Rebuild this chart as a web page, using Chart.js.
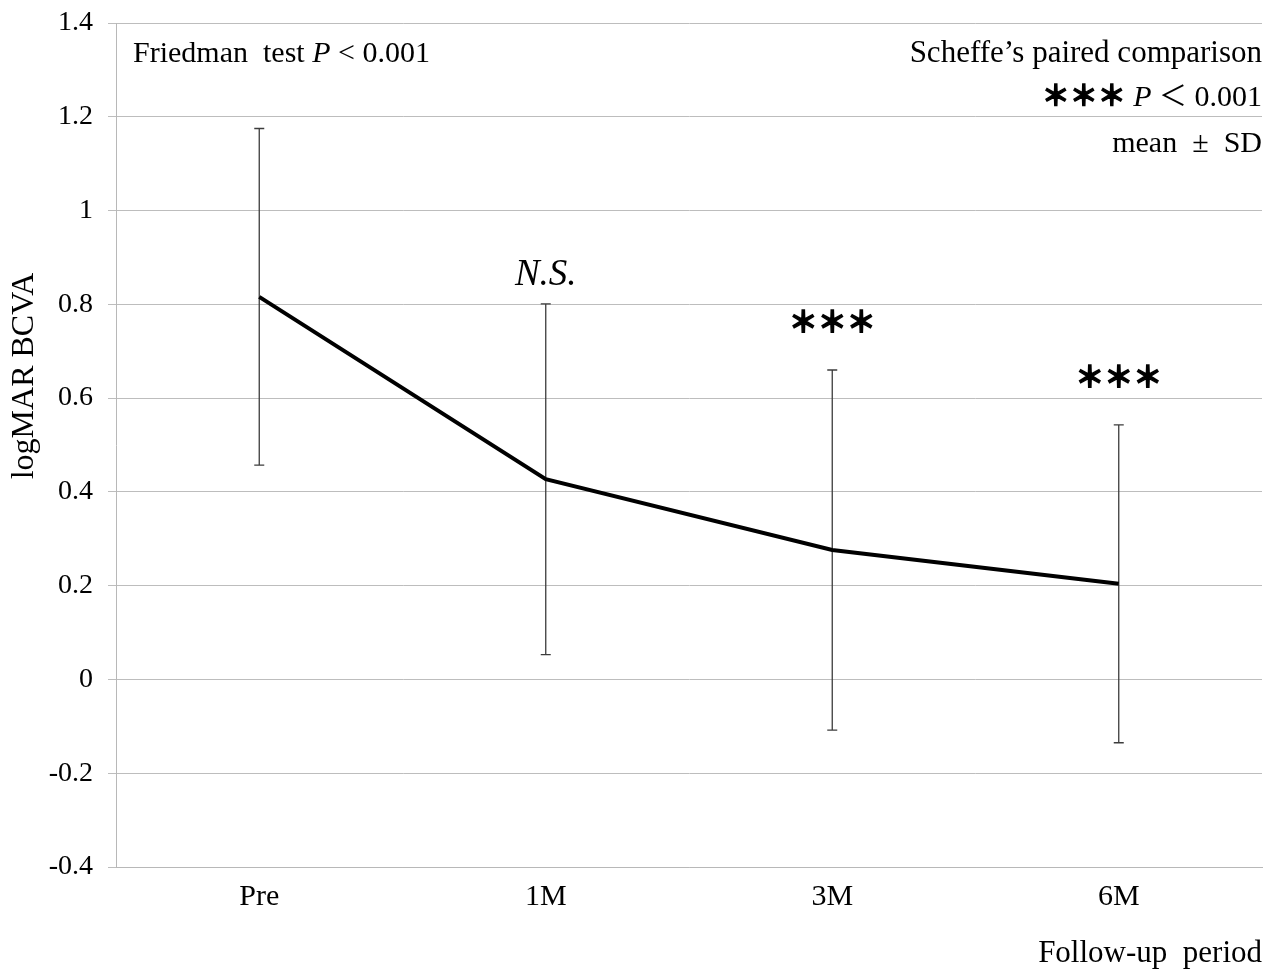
<!DOCTYPE html>
<html><head><meta charset="utf-8">
<script src="https://cdn.jsdelivr.net/npm/chart.js@4/dist/chart.umd.min.js"></script>
<style>html,body{margin:0;padding:0;background:#fff;}#wrap{width:1271px;height:975px;}</style>
</head><body><div id="wrap"><canvas id="c" width="1271" height="975"></canvas></div>
<script>
const categories = ['Pre', '1M', '3M', '6M'];
const meanValues = [0.816, 0.427, 0.276, 0.204];
const sdValues = [0.359, 0.374, 0.384, 0.339];
const significance = ['', 'N.S.', '＊＊＊', '＊＊＊'];
const yTickLabels = ['-0.4', '-0.2', '0', '0.2', '0.4', '0.6', '0.8', '1', '1.2', '1.4'];
const yAxisTitle = 'logMAR BCVA';
const xAxisTitle = 'Follow-up  period';

const SERIF = "'Liberation Serif', 'Times New Roman', 'Noto Sans CJK JP', serif";
const CJK = "'Noto Sans CJK JP', 'Liberation Serif', serif";

function drawRuns(ctx, runs, x, baseline, align) {
  let total = 0;
  runs.forEach(r => { ctx.font = r.font; r.w = ctx.measureText(r.text).width; total += r.w; });
  let cx = align === 'right' ? x - total : x;
  ctx.textAlign = 'left';
  ctx.textBaseline = 'alphabetic';
  runs.forEach(r => {
    ctx.font = r.font;
    ctx.fillText(r.text, cx, baseline);
    if (r.heavy) { ctx.lineWidth = 1.3; ctx.strokeStyle = '#000'; ctx.strokeText(r.text, cx, baseline); }
    cx += r.w;
  });
}

const errorBarPlugin = {
  id: 'errorBars',
  beforeDatasetsDraw(chart) {
    const {ctx, scales: {x, y}} = chart;
    ctx.save();
    ctx.strokeStyle = '#3c3c3c';
    ctx.lineWidth = 1.3;
    meanValues.forEach((m, i) => {
      const px = x.getPixelForValue(i);
      const top = y.getPixelForValue(m + sdValues[i]);
      const bot = y.getPixelForValue(m - sdValues[i]);
      ctx.beginPath();
      ctx.moveTo(px, top); ctx.lineTo(px, bot);
      ctx.moveTo(px - 5, top); ctx.lineTo(px + 5, top);
      ctx.moveTo(px - 5, bot); ctx.lineTo(px + 5, bot);
      ctx.stroke();
    });
    ctx.restore();
  }
};

const annotationPlugin = {
  id: 'annotations',
  afterDraw(chart) {
    const {ctx, chartArea, scales: {x, y}} = chart;
    ctx.save();
    ctx.fillStyle = '#000';
    // y axis title
    ctx.save();
    ctx.translate(33, 376);
    ctx.rotate(-Math.PI / 2);
    ctx.font = '32px ' + SERIF;
    ctx.textAlign = 'center';
    ctx.textBaseline = 'alphabetic';
    ctx.fillText(yAxisTitle, 0, 0);
    ctx.restore();

    // Friedman
    drawRuns(ctx, [
      {text: 'Friedman  test ', font: '30px ' + SERIF},
      {text: 'P', font: 'italic 30px ' + SERIF},
      {text: ' < 0.001', font: '30px ' + SERIF}
    ], chartArea.left + 17, 62, 'left');

    const R = chartArea.right;
    drawRuns(ctx, [{text: 'Scheffe\u2019s paired comparison', font: '31px ' + SERIF}], R, 62, 'right');
    drawRuns(ctx, [
      {text: '＊＊＊', font: 'bold 28px ' + CJK, heavy: true},
      {text: ' ', font: '30px ' + SERIF},
      {text: 'P', font: 'italic 30px ' + SERIF},
      {text: ' ', font: '30px ' + SERIF},
      {text: '＜', font: '28px ' + CJK},
      {text: ' 0.001', font: '30px ' + SERIF}
    ], R, 106, 'right');
    drawRuns(ctx, [{text: 'mean  \u00B1  SD', font: '30px ' + SERIF}], R, 152, 'right');

    // significance marks
    significance.forEach((s, i) => {
      if (!s) return;
      const px = x.getPixelForValue(i);
      const top = y.getPixelForValue(meanValues[i] + sdValues[i]);
      ctx.textAlign = 'center';
      if (s === 'N.S.') {
        ctx.font = 'italic 37px ' + SERIF;
        ctx.textBaseline = 'alphabetic';
        ctx.fillText(s, px, top - 19);
      } else {
        ctx.font = 'bold 29px ' + CJK;
        ctx.textBaseline = 'middle';
        ctx.fillText(s, px, top - 48);
        ctx.lineWidth = 1.4;
        ctx.strokeStyle = '#000';
        ctx.strokeText(s, px, top - 48);
      }
    });
    ctx.restore();
  }
};

new Chart(document.getElementById('c'), {
  type: 'line',
  data: {
    labels: categories,
    datasets: [{
      data: meanValues,
      borderColor: '#000',
      borderWidth: 4,
      pointRadius: 0,
      tension: 0,
      fill: false
    }]
  },
  options: {
    responsive: false,
    animation: false,
    devicePixelRatio: 1,
    layout: {padding: {top: 23, right: 9, bottom: 0, left: 0}},
    plugins: {legend: {display: false}, tooltip: {enabled: false}},
    scales: {
      x: {
        offset: true,
        grid: {display: false, drawTicks: false},
        border: {display: true, color: '#b8b8b8'},
        ticks: {color: '#000', font: {family: SERIF, size: 30}, padding: 12},
        title: {display: true, text: xAxisTitle, align: 'end', color: '#000',
                font: {family: SERIF, size: 31}, padding: {top: 0, bottom: 3}},
        afterFit(s) { s.height = 108; }
      },
      y: {
        min: -0.4, max: 1.4,
        ticks: {stepSize: 0.2, callback: (v, i) => yTickLabels[i], color: '#000',
                font: {family: SERIF, size: 28}, padding: 15},
        grid: {color: '#bdbdbd', tickLength: 8, lineWidth: 1},
        border: {color: '#b8b8b8'},
        afterFit(s) { s.width = 116; s.paddingTop = 0; s.paddingBottom = 0; }
      }
    }
  },
  plugins: [errorBarPlugin, annotationPlugin]
});
</script>
</body></html>
